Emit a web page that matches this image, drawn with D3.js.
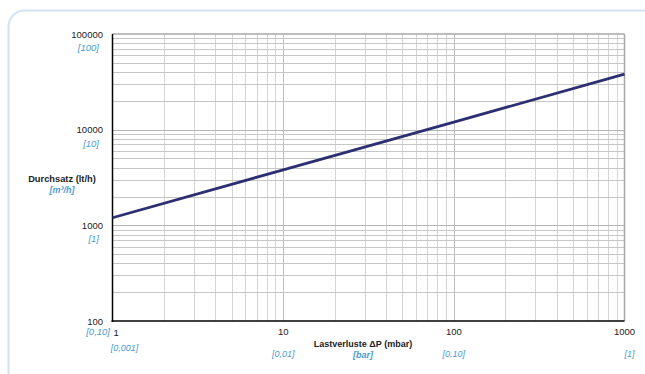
<!DOCTYPE html>
<html>
<head>
<meta charset="utf-8">
<script src="https://cdn.jsdelivr.net/npm/d3@7"></script>
<style>
  html, body { margin: 0; padding: 0; background: #fff; }
  svg { display: block; }
  text { font-family: "Liberation Sans", Arial, sans-serif; }
</style>
</head>
<body>
<svg id="chart" width="645" height="374"></svg>
<script>
// Pressure drop (mbar) vs. flow rate (lt/h)
const pressureDrop = [1, 10, 100, 1000];
const flowRate = [1200, 3800, 12000, 38100];

const xTicks = [1, 10, 100, 1000];
const xTickLabels = ["1", "10", "100", "1000"];
const xBarLabels = ["[0,001]", "[0,01]", "[0,10]", "[1]"];
const yTicks = [100, 1000, 10000, 100000];
const yTickLabels = ["100", "1000", "10000", "100000"];
const yM3Labels = ["[0,10]", "[1]", "[10]", "[100]"];

const svg = d3.select("#chart");
const blue = "#4b9ad6";
const dark = "#222";

// card outline
svg.append("rect")
  .attr("x", 8.5).attr("y", 10.5)
  .attr("width", 660).attr("height", 420)
  .attr("rx", 16)
  .attr("fill", "#fff")
  .attr("stroke", "#d3e2f1")
  .attr("stroke-width", 2);

const plotL = 112.5, plotR = 624.5, plotT = 34, plotB = 321;
const x = d3.scaleLog().domain([1, 1000]).range([plotL, plotR]);
const y = d3.scaleLog().domain([100, 100000]).range([plotB, plotT]);

// minor gridlines (2..9 within each decade) and major ones
const xGrid = [];
for (let d = 1; d < 1000; d *= 10) for (let k = 1; k <= 9; k++) if (d * k > 1) xGrid.push(d * k);
const yGrid = [];
for (let d = 100; d < 100000; d *= 10) for (let k = 1; k <= 9; k++) if (d * k > 100) yGrid.push(d * k);

const g = svg.append("g");
g.selectAll(".vg").data(xGrid).join("line")
  .attr("x1", d => Math.round(x(d)) + 0.5).attr("x2", d => Math.round(x(d)) + 0.5)
  .attr("y1", plotT).attr("y2", plotB)
  .attr("stroke", d => (d === 10 || d === 100) ? "#bdbdbd" : "#d4d4d4")
  .attr("stroke-width", 1);
g.selectAll(".hg").data(yGrid).join("line")
  .attr("x1", plotL).attr("x2", plotR)
  .attr("y1", d => Math.round(y(d)) + 0.5).attr("y2", d => Math.round(y(d)) + 0.5)
  .attr("stroke", d => (d === 1000 || d === 10000) ? "#b5b5b5" : "#c6c6c6")
  .attr("stroke-width", 1);

// top and right frame
svg.append("line").attr("x1", plotL).attr("x2", plotR).attr("y1", plotT).attr("y2", plotT)
  .attr("stroke", "#a8a8a8").attr("stroke-width", 1.5);
svg.append("line").attr("x1", plotR).attr("x2", plotR).attr("y1", plotT).attr("y2", plotB)
  .attr("stroke", "#a8a8a8").attr("stroke-width", 1.5);

// axes lines
svg.append("line").attr("x1", plotL).attr("x2", plotL).attr("y1", plotT).attr("y2", plotB + 1)
  .attr("stroke", "#000").attr("stroke-width", 1.5);
svg.append("line").attr("x1", plotL - 1).attr("x2", plotR).attr("y1", plotB).attr("y2", plotB)
  .attr("stroke", "#000").attr("stroke-width", 1.5);

// data line
const line = d3.line().x((d, i) => x(pressureDrop[i])).y(d => y(d));
svg.append("path")
  .datum(flowRate)
  .attr("d", line)
  .attr("fill", "none")
  .attr("stroke", "#2c2f72")
  .attr("stroke-width", 2.8);

// y tick labels
yTicks.forEach((t, i) => {
  svg.append("text")
    .attr("x", 103).attr("y", y(t) + 3.5)
    .attr("text-anchor", "end")
    .attr("font-size", 9.5).attr("fill", dark)
    .text(yTickLabels[i]);
  if (i > 0) {
    svg.append("text")
      .attr("x", 99).attr("y", y(t) + 17)
      .attr("text-anchor", "end")
      .attr("font-size", 9.5).attr("font-style", "italic").attr("fill", blue)
      .text(yM3Labels[i]);
  }
});
svg.append("text")
  .attr("x", 110).attr("y", 334.5)
  .attr("text-anchor", "end")
  .attr("font-size", 9.5).attr("font-style", "italic").attr("fill", blue)
  .text(yM3Labels[0]);

// x tick labels
xTicks.forEach((t, i) => {
  svg.append("text")
    .attr("x", i === 0 ? x(t) + 1 : x(t)).attr("y", i === 0 ? 336 : 335)
    .attr("text-anchor", i === 0 ? "start" : "middle")
    .attr("font-size", 9.5).attr("fill", dark)
    .text(xTickLabels[i]);
  svg.append("text")
    .attr("x", i === 3 ? x(t) + 5 : (i === 0 ? x(t) + 12 : x(t))).attr("y", i === 0 ? 351 : 357)
    .attr("text-anchor", "middle")
    .attr("font-size", 9).attr("font-style", "italic").attr("fill", blue)
    .text(xBarLabels[i]);
});

// axis titles
svg.append("text")
  .attr("x", 62).attr("y", 181.5)
  .attr("text-anchor", "middle")
  .attr("font-size", 9.3).attr("font-weight", "bold").attr("fill", dark)
  .text("Durchsatz (lt/h)");
svg.append("text")
  .attr("x", 62).attr("y", 193)
  .attr("text-anchor", "middle")
  .attr("font-size", 9).attr("font-weight", "bold").attr("font-style", "italic").attr("fill", blue)
  .text("[m³/h]");
svg.append("text")
  .attr("x", 363).attr("y", 347)
  .attr("text-anchor", "middle")
  .attr("font-size", 9).attr("font-weight", "bold").attr("fill", dark)
  .text("Lastverluste ΔP (mbar)");
svg.append("text")
  .attr("x", 363).attr("y", 357.5)
  .attr("text-anchor", "middle")
  .attr("font-size", 9).attr("font-weight", "bold").attr("font-style", "italic").attr("fill", blue)
  .text("[bar]");
</script>
</body>
</html>
